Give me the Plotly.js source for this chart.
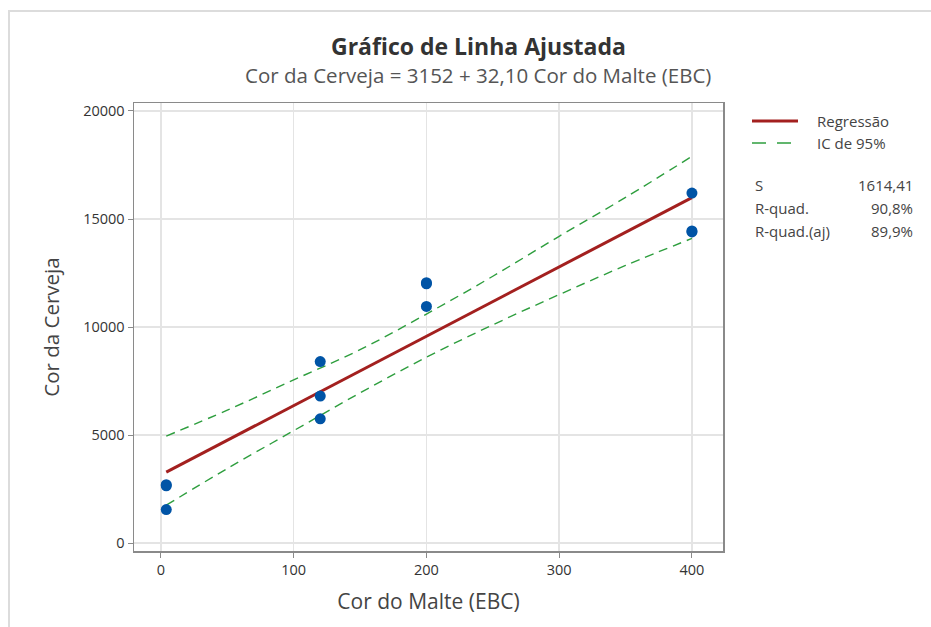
<!DOCTYPE html>
<html>
<head>
<meta charset="utf-8">
<script src="https://cdn.plot.ly/plotly-3.0.1.min.js"></script>
<style>
html,body{margin:0;padding:0;background:#fff;}
#wrap{position:relative;width:931px;height:627px;overflow:hidden;}
#chart{position:absolute;left:0;top:0;width:931px;height:627px;}
#frame{position:absolute;left:8px;top:10px;width:940px;height:640px;border-left:2px solid #dcdcdc;border-top:2px solid #dcdcdc;pointer-events:none;}
</style>
</head>
<body>
<div id="wrap"><div id="chart"></div><div id="frame"></div></div>
<script>
// Observed data
const maltColor = [4, 4, 4, 120, 120, 120, 200, 200, 200, 400, 400, 400];
const beerColor = [2700, 2650, 1550, 8400, 6800, 5750, 12050, 12000, 10950, 16200, 14450, 14400];
// Fitted line: Cor da Cerveja = 3152 + 32,10 Cor do Malte
const fitX = [4, 400];
const fitY = [3280, 15992];
// 95% confidence band
const ciX = [4, 50, 100, 150, 200, 250, 300, 350, 400];
const ciUpper = [4950, 6150, 7550, 8950, 10600, 12350, 14200, 16000, 17900];
const ciLower = [1750, 3450, 5200, 6950, 8600, 10100, 11500, 12850, 14100];
const xTicks = [0, 100, 200, 300, 400];
const yTicks = [0, 5000, 10000, 15000, 20000];
const statLabels = ['S', 'R-quad.', 'R-quad.(aj)'];
const statValues = ['1614,41', '90,8%', '89,9%'];

const FONT = '"Open Sans", "Noto Sans", sans-serif';
const L = 134, R = 723, T = 103, B = 551;
const px = x => (x - L) / (R - L);
const py = y => (B - y) / (B - T);

const traces = [
  {x: ciX, y: ciUpper, mode: 'lines', type: 'scatter', line: {color: '#2e9e3e', width: 1.4, dash: '9px,6px', shape: 'spline'}, hoverinfo: 'skip'},
  {x: ciX, y: ciLower, mode: 'lines', type: 'scatter', line: {color: '#2e9e3e', width: 1.4, dash: '9px,6px', shape: 'spline'}, hoverinfo: 'skip'},
  {x: fitX, y: fitY, mode: 'lines', type: 'scatter', line: {color: '#a3201f', width: 3}},
  {x: maltColor, y: beerColor, mode: 'markers', type: 'scatter', marker: {color: '#0054a6', size: 11}}
];

const annotations = [
  {text: '<b>Gráfico de Linha Ajustada</b>', x: px(478), y: py(46), xref: 'paper', yref: 'paper', showarrow: false, xanchor: 'center', yanchor: 'middle', font: {family: FONT, size: 23, color: '#333'}},
  {text: 'Cor da Cerveja = 3152 + 32,10 Cor do Malte (EBC)', x: px(478), y: py(75), xref: 'paper', yref: 'paper', showarrow: false, xanchor: 'center', yanchor: 'middle', font: {family: FONT, size: 20.5, color: '#555'}},
  {text: 'Regressão', x: px(815), y: py(121), xref: 'paper', yref: 'paper', showarrow: false, xanchor: 'left', yanchor: 'middle', font: {family: FONT, size: 15, color: '#444'}},
  {text: 'IC de 95%', x: px(815), y: py(143), xref: 'paper', yref: 'paper', showarrow: false, xanchor: 'left', yanchor: 'middle', font: {family: FONT, size: 15, color: '#444'}}
];
const rowsY = [185, 208, 231];
statLabels.forEach((s, i) => {
  annotations.push({text: s, x: px(753), y: py(rowsY[i]), xref: 'paper', yref: 'paper', showarrow: false, xanchor: 'left', yanchor: 'middle', font: {family: FONT, size: 15, color: '#444'}});
  annotations.push({text: statValues[i], x: px(915), y: py(rowsY[i]), xref: 'paper', yref: 'paper', showarrow: false, xanchor: 'right', yanchor: 'middle', font: {family: FONT, size: 15, color: '#444'}});
});

const shapes = [
  {type: 'line', xref: 'paper', yref: 'paper', x0: px(752), x1: px(798), y0: py(121), y1: py(121), line: {color: '#a3201f', width: 3}},
  {type: 'line', xref: 'paper', yref: 'paper', x0: px(752), x1: px(798), y0: py(143), y1: py(143), line: {color: '#2e9e3e', width: 1.5, dash: '14px,11px'}}
];

const layout = {
  width: 931, height: 627,
  margin: {l: L, r: 931 - R, t: T, b: 627 - B, pad: 0},
  paper_bgcolor: '#fff', plot_bgcolor: '#fff',
  showlegend: false,
  font: {family: FONT, size: 14.5, color: '#333'},
  xaxis: {
    range: [-20.3, 423.4], tickvals: xTicks, ticktext: xTicks.map(String),
    showgrid: true, gridcolor: '#e4e4e4', gridwidth: 1.5, zeroline: false,
    showline: true, linecolor: '#8a8a8a', linewidth: 1.5, mirror: true,
    ticks: 'outside', ticklen: 5, tickcolor: '#8a8a8a', tickwidth: 1,
    tickfont: {family: FONT, size: 14.5, color: '#333'},
    title: {text: 'Cor do Malte (EBC)', font: {family: FONT, size: 21, color: '#444'}, standoff: 16}
  },
  yaxis: {
    range: [-370, 20370], tickvals: yTicks, ticktext: yTicks.map(String),
    showgrid: true, gridcolor: '#e4e4e4', gridwidth: 1.5, zeroline: false,
    showline: true, linecolor: '#8a8a8a', linewidth: 1.5, mirror: true,
    ticks: 'outside', ticklen: 5, tickcolor: '#8a8a8a', tickwidth: 1,
    tickfont: {family: FONT, size: 14.5, color: '#333'},
    title: {text: 'Cor da Cerveja', font: {family: FONT, size: 20.5, color: '#444'}, standoff: 18}
  },
  annotations: annotations,
  shapes: shapes
};

Plotly.newPlot('chart', traces, layout, {displayModeBar: false, staticPlot: true});
</script>
</body>
</html>
